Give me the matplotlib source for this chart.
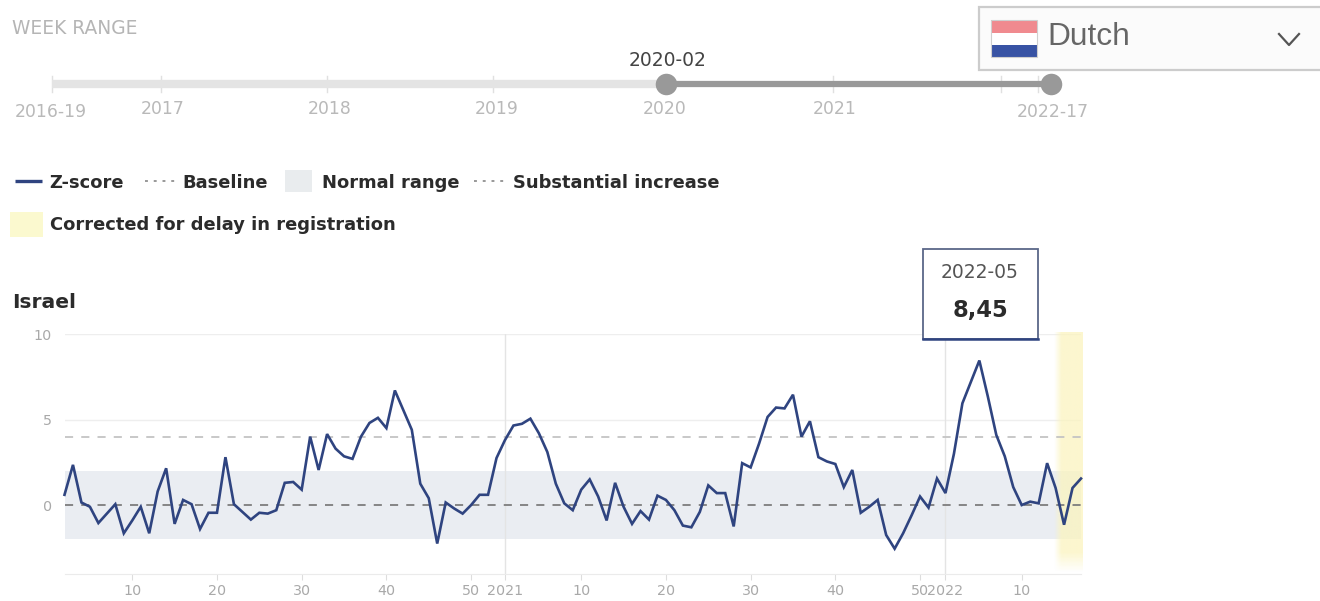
import matplotlib
matplotlib.use("Agg")
import matplotlib.pyplot as plt
import numpy as np
from matplotlib.patches import Rectangle

plt.rcParams['font.family'] = ['DejaVu Sans']

# Z-score per week
z_2020 = [0.6, 2.35, 0.15, -0.1, -1.05, -0.5, 0.05, -1.65, -0.9, -0.1,
          -1.65, 0.8, 2.15, -1.1, 0.3, 0.05, -1.4, -0.45, -0.45, 2.8,
          0.05, -0.4, -0.85, -0.45, -0.5, -0.3, 1.3, 1.35, 0.9, 4.0,
          2.05, 4.15, 3.3, 2.85, 2.7, 4.0, 4.8, 5.1, 4.5, 6.7,
          5.55, 4.4, 1.25, 0.4, -2.25, 0.15, -0.2, -0.5, 0.0, 0.6,
          0.6, 2.75]
z_2021 = [3.8, 4.65, 4.75, 5.05, 4.2, 3.1, 1.25, 0.1, -0.3, 0.9,
          1.5, 0.5, -0.9, 1.3, -0.1, -1.1, -0.35, -0.85, 0.55, 0.3,
          -0.3, -1.2, -1.3, -0.4, 1.15, 0.7, 0.7, -1.25, 2.45, 2.2,
          3.6, 5.15, 5.7, 5.65, 6.45, 4.0, 4.9, 2.8, 2.55, 2.4,
          1.05, 2.05, -0.45, -0.1, 0.3, -1.75, -2.55, -1.65, -0.6, 0.5,
          -0.15, 1.55]
z_2022 = [0.7, 3.0, 5.95, 7.2, 8.45, 6.35, 4.1, 2.85, 1.05, 0.0,
          0.2, 0.1, 2.45, 1.0, -1.15, 1.0, 1.55]
z_score = z_2020 + z_2021 + z_2022

x_ticks = [8, 18, 28, 38, 48, 52, 61, 71, 81, 91, 101, 104, 113]
x_labels = ['10', '20', '30', '40', '50', '2021', '10', '20', '30', '40', '50', '2022', '10']
y_ticks = [0, 5, 10]
year_lines = [52, 104]
baseline = 0
substantial = 4
normal_low, normal_high = -2, 2
corrected_from = 116.8
tooltip_idx = 108

slider_labels = ['2016-19', '2017', '2018', '2019', '2020', '2021', '2022-17']
slider_label_x = [51, 163, 330, 497, 665, 835, 1053]
slider_tick_x = [52, 161, 327, 493, 665, 833, 1001, 1038]

W, H = 1320, 601
NAVY = '#2f4480'
DARK = '#2b2b2b'
GREY = '#a9a9a9'

fig = plt.figure(figsize=(W / 100, H / 100), dpi=100)

# overlay in pixel coordinates for the page furniture
page = fig.add_axes([0, 0, 1, 1], zorder=2)
page.set_xlim(0, W)
page.set_ylim(H, 0)
page.axis('off')
page.patch.set_alpha(0)

# ---- chart ----
left, right, top, bottom = 64.5, 1081, 334, 574
ax = fig.add_axes([left / W, 1 - bottom / H, (right - left) / W, (bottom - top) / H], zorder=1)
ax.set_xlim(0, 120)
ax.set_ylim(-4.03, 10)
ax.spines[['top', 'right', 'left']].set_visible(False)
ax.spines['bottom'].set_color('#ebebeb')

ax.axhspan(normal_low, normal_high, color='#eaedf2', lw=0, zorder=1)

# yellow band fades in from the left and out towards the bottom
fade_x = np.clip(np.linspace(0, 1, 40) * 4, 0, 1)
fade_y = np.clip((1 - np.linspace(0, 1, 60)) * 12, 0, 1)
band = np.zeros((60, 40, 4))
band[..., :3] = matplotlib.colors.to_rgb('#fbf4bf')
band[..., 3] = np.outer(fade_y, fade_x) * 0.75
ax.imshow(band, extent=[corrected_from, 120.2, -4.03, 10.1], aspect='auto', zorder=2, clip_on=False)
ax.set_xlim(0, 120)
ax.set_ylim(-4.03, 10)

for v in y_ticks[1:]:
    ax.axhline(v, color='#eeeeee', lw=1, zorder=1)
for v in year_lines:
    ax.axvline(v, color='#e4e4e4', lw=1, zorder=1)
ax.axhline(baseline, color='#7d7d7d', lw=1.3, dashes=(4.5, 4.5), zorder=3)
ax.axhline(substantial, color='#c4c4c4', lw=1.3, dashes=(4.5, 4.5), zorder=3)
ax.plot(range(len(z_score)), z_score, color=NAVY, lw=1.9, solid_joinstyle='miter', zorder=4, clip_on=False)

ax.set_xticks(x_ticks, x_labels)
ax.set_yticks(y_ticks, ['0', '5', '10'])
ax.tick_params(axis='x', length=4, color='#dddddd', labelcolor=GREY, labelsize=10.3, pad=3.5)
ax.tick_params(axis='y', length=0, labelcolor=GREY, labelsize=10.3, pad=9)

# ---- tooltip ----
page.add_patch(Rectangle((923, 249), 115, 90, fc='white', ec='#5a6788', lw=1.3, zorder=5))
page.plot([923, 1038], [339, 339], color=NAVY, lw=1.8, zorder=6)
page.text(980, 273, '2022-05', ha='center', va='center', color='#555555', fontsize=13.5, zorder=6)
page.text(980, 310, f'{z_score[tooltip_idx]:.2f}'.replace('.', ','), ha='center', va='center',
          color=DARK, fontsize=16.3, fontweight='bold', zorder=6)

# ---- slider ----
page.text(12, 28, 'WEEK RANGE', color='#b5b5b5', fontsize=13.4, va='center')
page.plot([52, 666], [84, 84], color='#e4e4e4', lw=6, solid_capstyle='butt')
page.plot([666, 1051], [84, 84], color='#999999', lw=4.5, solid_capstyle='butt')
page.plot([666, 1051], [84, 84], 'o', color='#999999', ms=15.5, mew=0)
for x in slider_tick_x:
    page.plot([x, x], [76, 92], color='#e0e0e0', lw=1, zorder=0)
for x, lab in zip(slider_label_x, slider_labels):
    y = 112 if '-' in lab else 109
    page.text(x, y, lab, color='#b9b9b9', fontsize=12.4, ha='center', va='center')
page.text(668, 60, '2020-02', color='#444444', fontsize=13.5, ha='center', va='center')

# ---- legend ----
kw = dict(color=DARK, fontsize=12.9, fontweight='bold', va='baseline')
page.plot([15, 42], [181, 181], color=NAVY, lw=2.4, solid_capstyle='butt')
page.text(49, 188, 'Z-score', **kw)
page.plot([145, 175], [181, 181], color='#999999', lw=1.4, dashes=(1.5, 3))
page.text(182, 188, 'Baseline', **kw)
page.add_patch(Rectangle((285, 170), 27, 22, fc='#e9ecee', ec='none'))
page.text(322, 188, 'Normal range', **kw)
page.plot([474, 505], [181, 181], color='#999999', lw=1.4, dashes=(1.5, 3))
page.text(513, 188, 'Substantial increase', **kw)
page.add_patch(Rectangle((10, 212), 33, 25, fc='#fbf9cf', ec='none'))
page.text(50, 230, 'Corrected for delay in registration', **kw)
page.text(12, 308, 'Israel', color=DARK, fontsize=14.6, fontweight='bold', va='baseline')

# ---- language dropdown ----
page.add_patch(Rectangle((979, 7), 345, 63, fc='#fbfbfb', ec='#cccccc', lw=1.6))
page.add_patch(Rectangle((991, 20), 46, 13, fc='#f08a8f', ec='none'))
page.add_patch(Rectangle((991, 33), 46, 12, fc='white', ec='none'))
page.add_patch(Rectangle((991, 45), 46, 12, fc='#3853a4', ec='none'))
page.add_patch(Rectangle((991, 20), 46, 37, fc='none', ec='#cfcfcf', lw=0.8))
page.text(1047, 37, 'Dutch', family='Liberation Sans', color='#666666', fontsize=22.8, va='center')
page.plot([1279, 1289, 1299], [34, 45, 34], color='#555555', lw=1.6)

fig.savefig('out.png', dpi=100)
